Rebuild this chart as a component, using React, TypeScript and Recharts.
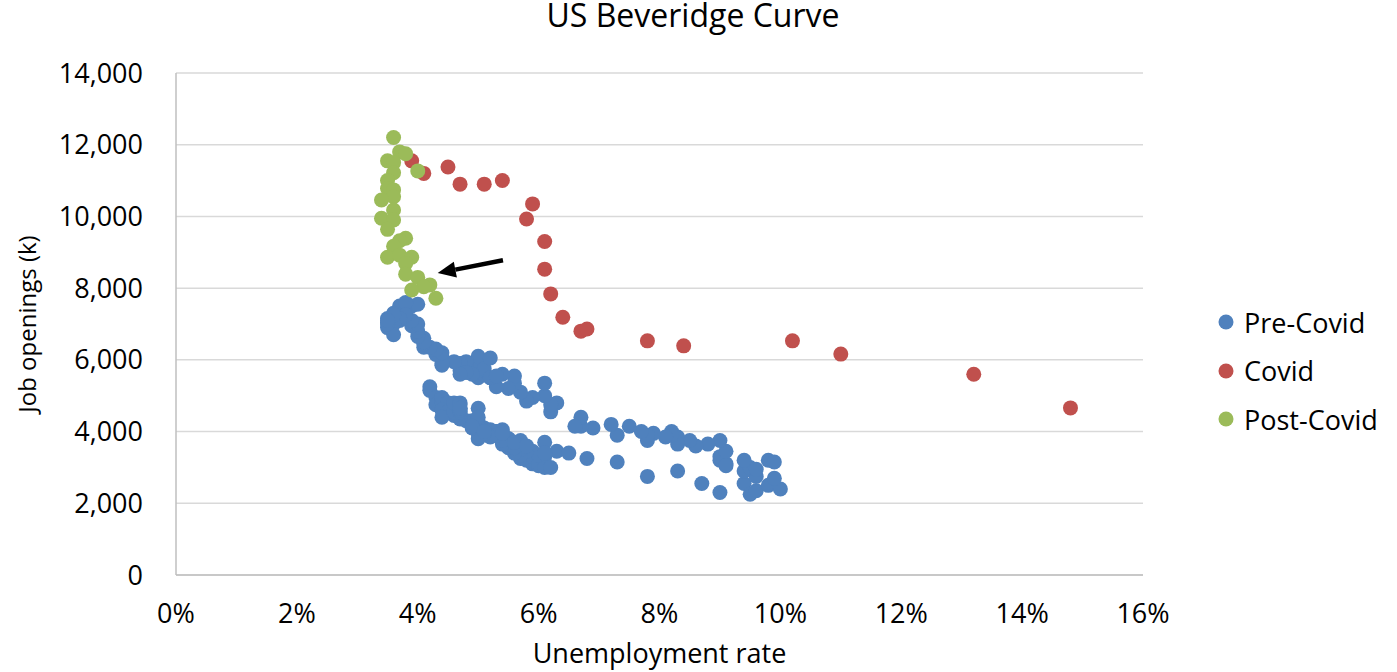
import React from "react"
import {
  ScatterChart,
  Scatter,
  XAxis,
  YAxis,
  CartesianGrid,
  ReferenceLine,
} from "recharts"

// [unemployment rate %, job openings (k)]
const preCovid: [number, number][] = [
  [4.2, 5250], [4.2, 5150], [4.3, 4950], [4.3, 4750], [4.4, 4850], [4.5, 4700], [4.6, 4600],
  [4.7, 4450], [4.9, 4300], [5.0, 4200], [5.3, 4000], [5.5, 3800], [5.6, 3700],
  [5.7, 3750], [5.7, 3600], [5.8, 3500], [5.8, 3350], [5.9, 3450], [5.8, 3300], [5.7, 3250],
  [5.9, 3100], [5.9, 3200], [6.0, 3300], [6.0, 3050], [6.0, 3150],
  [5.8, 3200], [5.9, 3300], [6.0, 3100], [6.1, 3300], [6.1, 3000], [6.2, 3000], [6.3, 3450],
  [6.1, 3700], [6.0, 3350], [5.8, 3450], [5.7, 3350], [5.7, 3500],
  [5.6, 3400], [5.5, 3550], [5.6, 3550], [5.5, 3700], [5.4, 3650], [5.5, 3800], [5.4, 3850],
  [5.4, 3750], [5.4, 3950], [5.4, 4050], [5.3, 4000], [5.2, 4050],
  [5.3, 3900], [5.2, 3850], [5.1, 3950], [5.0, 4050], [5.1, 4100], [5.0, 4250], [5.0, 4150],
  [4.9, 4200], [5.0, 3950], [5.0, 4000], [5.0, 3800], [4.9, 4100],
  [4.7, 4350], [4.8, 4300], [4.7, 4400], [4.7, 4500], [4.6, 4550], [4.6, 4450], [4.7, 4650],
  [4.7, 4750], [4.5, 4600], [4.4, 4850], [4.5, 4800], [4.4, 4950],
  [4.6, 4750], [4.5, 4800], [4.4, 4600], [4.5, 4550], [4.4, 4400], [4.6, 4550], [4.7, 4550],
  [4.6, 4800], [4.7, 4800], [4.7, 4600], [4.7, 4650], [5.0, 4650],
  [5.0, 4400], [4.9, 4150], [5.1, 4000], [5.4, 3950], [5.6, 3700], [5.8, 3600], [6.1, 3400],
  [6.5, 3400], [6.8, 3250], [7.3, 3150], [7.8, 2750], [8.3, 2900],
  [8.7, 2550], [9.0, 2300], [9.4, 2550], [9.5, 2250], [9.6, 2350], [9.8, 2500], [10.0, 2400],
  [9.9, 2700], [9.6, 2750], [9.4, 2900], [9.5, 3000], [9.6, 2950],
  [9.8, 3200], [9.9, 3150], [9.4, 3200], [9.1, 3100], [9.0, 3200], [9.0, 3300], [9.1, 3450],
  [9.0, 3750], [9.1, 3050], [8.8, 3650], [8.6, 3600], [8.5, 3750],
  [8.3, 3850], [8.3, 3650], [8.2, 4000], [8.2, 3900], [8.1, 3850], [7.9, 3950], [7.8, 3750],
  [7.8, 3900], [7.7, 4000], [7.5, 4150], [7.3, 3900], [7.2, 4200],
  [6.9, 4100], [6.7, 4150], [6.7, 4400], [6.6, 4150], [6.3, 4800], [6.2, 4550], [6.2, 4750],
  [6.1, 5000], [6.1, 5350], [5.9, 4950], [5.8, 4850], [5.7, 5100],
  [5.6, 5350], [5.6, 5550], [5.5, 5200], [5.4, 5600], [5.3, 5250], [5.2, 5500],
  [5.0, 5500], [5.1, 5600], [5.0, 5900], [5.0, 5700], [4.9, 5750], [4.9, 5900], [5.0, 6100],
  [5.1, 5750], [5.2, 5500], [5.3, 5550], [4.8, 5800], [4.7, 5700],
  [4.8, 5950], [4.7, 5900], [4.9, 5600], [4.8, 5650], [4.7, 5600], [4.6, 5950], [4.4, 5850],
  [5.2, 6050], [4.4, 6100], [4.4, 5900], [4.3, 6150], [4.4, 6200],
  [4.3, 6300], [4.1, 6350], [4.2, 6350], [4.1, 6450], [4.1, 6600], [4.1, 6500], [4.0, 6650],
  [4.0, 6800], [3.9, 6950], [4.0, 7000], [3.8, 7300], [3.9, 7100],
  [3.7, 7200], [3.8, 7400], [3.7, 7500], [3.9, 7500], [4.0, 7550], [3.8, 7600], [3.8, 7250],
  [3.7, 7100], [3.6, 7300], [3.7, 7150], [3.5, 7150], [3.6, 7000],
  [3.5, 6900], [3.6, 6700], [3.5, 7050], [3.6, 7250], [3.5, 7000], [3.5, 7100],
]

const covid: [number, number][] = [
  [3.9, 11550], [4.1, 11200], [4.5, 11380], [4.7, 10900], [5.1, 10900], [5.4, 11000],
  [5.9, 10350], [5.8, 9930], [6.1, 9300], [6.1, 8530], [6.2, 7840], [6.4, 7190],
  [6.7, 6800], [6.8, 6860], [7.8, 6530], [8.4, 6390], [10.2, 6530], [11.0, 6160],
  [13.2, 5600], [14.8, 4660],
]

const postCovid: [number, number][] = [
  [3.6, 12200], [3.7, 11800], [3.8, 11750], [3.5, 11550], [3.6, 11500], [4.0, 11270],
  [3.6, 11220], [3.5, 11000], [3.5, 10780], [3.6, 10740], [3.6, 10550], [3.4, 10460],
  [3.6, 10180], [3.4, 9950], [3.6, 9900], [3.5, 9640], [3.8, 9390], [3.7, 9320],
  [3.6, 9170], [3.5, 8860], [3.7, 8920], [3.9, 8860], [3.8, 8690], [3.8, 8390],
  [4.0, 8300], [4.2, 8090], [4.1, 8040], [3.9, 7950], [4.3, 7720],
]

const SERIES = ["Pre-Covid", "Covid", "Post-Covid"]
const COLORS = ["#4F81BD", "#C0504D", "#9BBB59"]

const X_TICKS = [0, 2, 4, 6, 8, 10, 12, 14, 16]
const Y_TICKS = [0, 2000, 4000, 6000, 8000, 10000, 12000, 14000]

// arrow annotation, tail -> head
const ARROW_FROM = { x: 5.41, y: 8780 }
const ARROW_TO = { x: 4.33, y: 8420 }

const FONT = "'Open Sans', sans-serif"

const toPoints = (arr: [number, number][]) => arr.map(([x, y]) => ({ x, y }))

const Dot = (color: string) => (props: any) => (
  <circle cx={props.cx} cy={props.cy} r={7.5} fill={color} />
)

function Arrow(props: any) {
  const { x1, y1, x2, y2 } = props
  if (x1 == null) return null
  const ang = Math.atan2(y2 - y1, x2 - x1)
  const len = 18
  const half = 8
  const bx = x2 - len * Math.cos(ang)
  const by = y2 - len * Math.sin(ang)
  const px = -Math.sin(ang) * half
  const py = Math.cos(ang) * half
  return (
    <g>
      <line x1={x1} y1={y1} x2={bx} y2={by} stroke="#000" strokeWidth={4.5} />
      <polygon points={`${x2},${y2} ${bx + px},${by + py} ${bx - px},${by - py}`} fill="#000" />
    </g>
  )
}

function LegendBox() {
  return (
    <div
      style={{
        position: "absolute",
        left: 1218,
        top: 298,
        fontFamily: FONT,
        fontSize: 27,
        color: "#000",
      }}
    >
      {SERIES.map((name, i) => (
        <div key={name} style={{ display: "flex", alignItems: "center", height: 48.5 }}>
          <svg width={16} height={16} style={{ marginRight: 10 }}>
            <circle cx={8} cy={8} r={7.5} fill={COLORS[i]} />
          </svg>
          <span>{name}</span>
        </div>
      ))}
    </div>
  )
}

export default function App() {
  const data = [toPoints(preCovid), toPoints(covid), toPoints(postCovid)]
  return (
    <div style={{ position: "absolute", left: 0, top: 0, width: 1397, height: 672, background: "#fff" }}>
      <svg width={1397} height={40} style={{ position: "absolute", left: 0, top: 0 }}>
        <text x={693} y={27} textAnchor="middle" fontFamily={FONT} fontSize={32} fill="#000">
          US Beveridge Curve
        </text>
      </svg>
      <ScatterChart width={1397} height={672} margin={{ top: 73, right: 254, bottom: 0, left: 0 }}>
        <CartesianGrid vertical={false} stroke="#D9D9D9" strokeWidth={1.5} />
        <XAxis
          type="number"
          dataKey="x"
          domain={[0, 16]}
          ticks={X_TICKS}
          tickFormatter={(v) => `${v}%`}
          height={97}
          tickSize={0}
          tickMargin={29}
          axisLine={{ stroke: "#BFBFBF", strokeWidth: 1.5 }}
          tick={{ fill: "#000", fontSize: 27, fontFamily: FONT }}
          label={{ value: "Unemployment rate", position: "insideBottom", offset: 9, fill: "#000", fontSize: 27, fontFamily: FONT }}
        />
        <YAxis
          type="number"
          dataKey="y"
          domain={[0, 14000]}
          ticks={Y_TICKS}
          tickFormatter={(v) => v.toLocaleString("en-US")}
          width={176}
          tickSize={0}
          tickMargin={33}
          axisLine={{ stroke: "#BFBFBF", strokeWidth: 1.5 }}
          tick={{ fill: "#000", fontSize: 27, fontFamily: FONT }}
          label={{
            value: "Job openings (k)",
            angle: -90,
            position: "insideLeft",
            offset: 27,
            fill: "#000",
            fontSize: 24,
            fontFamily: FONT,
            style: { textAnchor: "middle" },
          }}
        />
        {SERIES.map((name, i) => (
          <Scatter
            key={name}
            name={name}
            data={data[i]}
            fill={COLORS[i]}
            shape={Dot(COLORS[i])}
            isAnimationActive={false}
          />
        ))}
        <ReferenceLine segment={[ARROW_FROM, ARROW_TO]} shape={Arrow} ifOverflow="visible" />
      </ScatterChart>
      <LegendBox />
    </div>
  )
}
